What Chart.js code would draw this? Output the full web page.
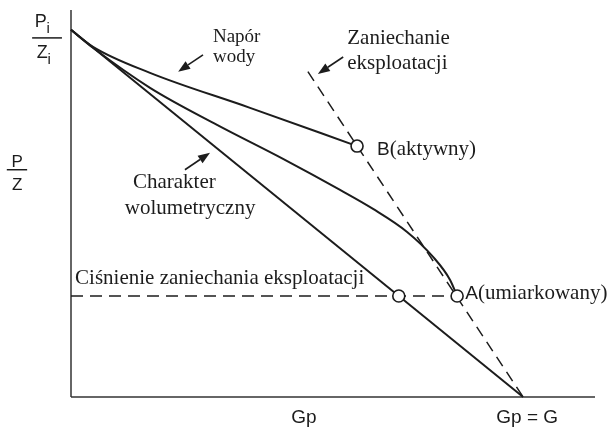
<!DOCTYPE html>
<html>
<head>
<meta charset="utf-8">
<script src="https://cdn.jsdelivr.net/npm/chart.js"></script>
<style>
  html, body { margin: 0; background: #fff; }
  #wrap { width: 611px; height: 428px; }
</style>
</head>
<body>
<div id="wrap"><canvas id="chart" width="611" height="428"></canvas></div>
<script>
// x = Gp / G (cumulative production), y = (P/Z) / (Pi/Zi)
const X_MAX = 1.159;
const Y_MAX = 1.054;

// volumetric reservoir: straight line
const volumetricX = [0, 1];
const volumetricY = [1, 0];

// moderate water drive -> ends at A
const moderateX = [0, 0.0487, 0.1748, 0.323, 0.469, 0.5951, 0.6681, 0.7434, 0.8009, 0.8385, 0.854];
const moderateY = [1, 0.951, 0.842, 0.7411, 0.6485, 0.564, 0.5123, 0.4496, 0.3815, 0.3188, 0.275];

// active water drive -> ends at B
const activeX = [0, 0.0487, 0.1748, 0.396, 0.6327];
const activeY = [1, 0.9537, 0.8828, 0.7875, 0.6834];

// abandonment line (dashed)
const abandonX = [0.524, 1];
const abandonY = [0.886, 0];

// abandonment pressure (horizontal dashed)
const abandonPressure = 0.275;
const pressureX = [0, 0.854];

// open circles: B, A, volumetric at abandonment
const markerX = [0.6327, 0.854, 0.725];
const markerY = [0.6834, 0.275, 0.275];

const INK = "#1c1c1c";
const SERIF = '"Liberation Serif", "Times New Roman", serif';
const SANS = '"Liberation Sans", Arial, sans-serif';

function pts(xs, ys) {
    return xs.map((x, i) => ({ x, y: ys[i] }));
}

function lineSet(data, extra) {
    return Object.assign({
        data,
        showLine: true,
        borderColor: INK,
        borderWidth: 2,
        pointRadius: 0,
        fill: false,
        clip: false,
        order: 5
    }, extra || {});
}

// labels in data coordinates (left / baseline)
const labels = [
    { t: "Napór", x: 0.314, y: 0.967, font: "19px " + SERIF },
    { t: "wody", x: 0.314, y: 0.913, font: "19px " + SERIF },
    { t: "Zaniechanie", x: 0.611, y: 0.962, font: "21px " + SERIF },
    { t: "eksploatacji", x: 0.611, y: 0.894, font: "21px " + SERIF },
    { t: "Charakter", x: 0.137, y: 0.569, font: "21px " + SERIF },
    { t: "wolumetryczny", x: 0.119, y: 0.499, font: "21px " + SERIF },
    { t: "Ciśnienie zaniechania eksploatacji", x: 0.009, y: 0.308, font: "21px " + SERIF }
];

// arrows: tail -> head
const arrows = [
    [0.292, 0.932, 0.237, 0.886],
    [0.602, 0.926, 0.546, 0.880],
    [0.252, 0.619, 0.3075, 0.665]
];

const annotations = {
    id: "annotations",
    afterDraw(chart) {
        const ctx = chart.ctx;
        const sx = v => chart.scales.x.getPixelForValue(v);
        const sy = v => chart.scales.y.getPixelForValue(v);
        ctx.save();
        ctx.fillStyle = INK;
        ctx.strokeStyle = INK;
        ctx.textBaseline = "alphabetic";
        ctx.textAlign = "left";

        labels.forEach(l => {
            ctx.font = l.font;
            ctx.fillText(l.t, sx(l.x), sy(l.y));
        });

        // point labels: sans letter + serif description
        function pointLabel(letter, rest, x, y) {
            ctx.font = "19px " + SANS;
            ctx.fillText(letter, sx(x), sy(y));
            const w = ctx.measureText(letter).width;
            ctx.font = "21px " + SERIF;
            ctx.fillText(rest, sx(x) + w, sy(y));
        }
        pointLabel("B", "(aktywny)", 0.677, 0.659);
        pointLabel("A", "(umiarkowany)", 0.872, 0.267);

        // arrows
        ctx.lineWidth = 1.6;
        arrows.forEach(a => {
            const x1 = sx(a[0]), y1 = sy(a[1]), x2 = sx(a[2]), y2 = sy(a[3]);
            const ang = Math.atan2(y2 - y1, x2 - x1);
            const len = 12, half = 4.5;
            const bx = x2 - len * Math.cos(ang), by = y2 - len * Math.sin(ang);
            ctx.beginPath();
            ctx.moveTo(x1, y1);
            ctx.lineTo(bx, by);
            ctx.stroke();
            ctx.beginPath();
            ctx.moveTo(x2, y2);
            ctx.lineTo(bx + half * Math.sin(ang), by - half * Math.cos(ang));
            ctx.lineTo(bx - half * Math.sin(ang), by + half * Math.cos(ang));
            ctx.closePath();
            ctx.fill();
        });

        // axis captions
        ctx.lineWidth = 1.5;
        // Pi / Zi
        ctx.font = "18px " + SANS;
        ctx.fillText("P", sx(-0.080), sy(1.008));
        ctx.fillText("Z", sx(-0.076), sy(0.924));
        ctx.font = "15px " + SANS;
        ctx.fillText("i", sx(-0.054), sy(0.990));
        ctx.fillText("i", sx(-0.052), sy(0.908));
        ctx.beginPath();
        ctx.moveTo(sx(-0.086), sy(0.978));
        ctx.lineTo(sx(-0.020), sy(0.978));
        ctx.stroke();
        // P / Z
        ctx.textAlign = "center";
        ctx.font = "17px " + SANS;
        ctx.fillText("P", sx(-0.119), sy(0.627));
        ctx.fillText("Z", sx(-0.119), sy(0.564));
        ctx.beginPath();
        ctx.moveTo(sx(-0.142), sy(0.619));
        ctx.lineTo(sx(-0.097), sy(0.619));
        ctx.stroke();
        // Gp, Gp = G
        ctx.font = "19px " + SANS;
        ctx.fillText("Gp", sx(0.515), sy(-0.071));
        ctx.fillText("Gp = G", sx(1.009), sy(-0.071));
        ctx.restore();
    }
};

new Chart(document.getElementById("chart"), {
    type: "scatter",
    data: {
        datasets: [
            {
                data: pts(markerX, markerY),
                pointRadius: 6,
                pointBackgroundColor: "#fff",
                pointBorderColor: INK,
                pointBorderWidth: 1.6,
                showLine: false,
                clip: false,
                order: 0
            },
            lineSet(pts(volumetricX, volumetricY)),
            lineSet(pts(moderateX, moderateY), { cubicInterpolationMode: "monotone" }),
            lineSet(pts(activeX, activeY), { cubicInterpolationMode: "monotone" }),
            lineSet(pts(abandonX, abandonY), { borderWidth: 1.5, borderDash: [11, 7] }),
            lineSet(pts(pressureX, [abandonPressure, abandonPressure]), { borderWidth: 1.5, borderDash: [12, 7] }),
            // axes
            lineSet(pts([0, 0], [0, Y_MAX]), { borderWidth: 1.5, borderColor: "#333", order: 8 }),
            lineSet(pts([0, X_MAX], [0, 0]), { borderWidth: 1.5, borderColor: "#333", order: 8 })
        ]
    },
    options: {
        responsive: false,
        animation: false,
        layout: { padding: { left: 71, right: 16, top: 10, bottom: 31 } },
        plugins: { legend: { display: false }, tooltip: { enabled: false } },
        scales: {
            x: { type: "linear", min: 0, max: X_MAX, display: false },
            y: { type: "linear", min: 0, max: Y_MAX, display: false }
        }
    },
    plugins: [annotations]
});
</script>
</body>
</html>
